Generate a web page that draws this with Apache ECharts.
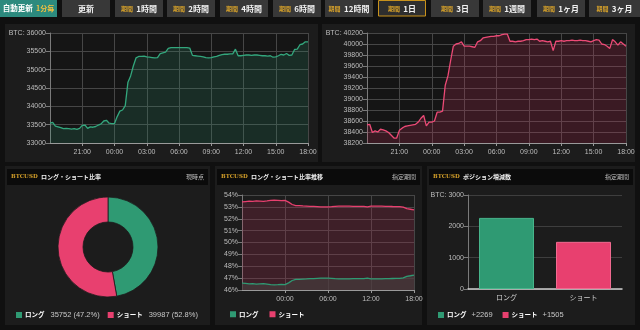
<!DOCTYPE html>
<html>
<head>
<meta charset="utf-8">
<title>BTCUSD ダッシュボード</title>
<script src="https://cdn.jsdelivr.net/npm/echarts/dist/echarts.min.js"></script>
<style>
  html, body { margin: 0; padding: 0; background: #101010; }
  #board { width: 640px; height: 330px; }
</style>
</head>
<body>
<div id="board"></div>
<script>
// ---- data ----
function clockLabels(startHour, stepMin, count) {
  const out = [];
  for (let i = 0; i < count; i++) {
    const m = (startHour * 60 + i * stepMin) % 1440;
    out.push(String(Math.floor(m / 60)).padStart(2, '0') + ':' + String(m % 60).padStart(2, '0'));
  }
  return out;
}
// 15-minute samples, 18:00 → 18:00
const priceTimes = clockLabels(18, 15, 97);
// 30-minute samples, 18:00 → 18:00
const ratioTimes = clockLabels(18, 30, 49);

// BTC price, venue A (green)
const priceA = [
  33540, 33560, 33460, 33440, 33420, 33390, 33400, 33390, 33380, 33390, 33370, 33400,
  33480, 33490, 33400, 33440, 33430, 33450, 33490, 33520, 33600, 33620, 33540, 33530,
  33530, 33720, 33870, 33900, 34020, 34660, 34830, 35100, 35320, 35360, 35360, 35370,
  35350, 35340, 35330, 35320, 35330, 35440, 35460, 35480, 35580, 35600, 35600, 35600,
  35600, 35600, 35600, 35600, 35590, 35390, 35380, 35370, 35360, 35350, 35330, 35320,
  35330, 35350, 35360, 35390, 35410, 35420, 35420, 35430, 35430, 35560, 35380, 35380,
  35390, 35400, 35400, 35390, 35400, 35400, 35390, 35380, 35380, 35370, 35380, 35340,
  35350, 35380, 35420, 35400, 35440, 35390, 35400, 35550, 35560, 35680, 35700, 35760,
  35760
];
// BTC price, venue B (pink)
const priceB = [
  38530, 38540, 38390, 38420, 38400, 38450, 38440, 38420, 38390, 38340, 38290, 38290,
  38430, 38470, 38500, 38510, 38520, 38530, 38540, 38580, 38650, 38700, 38510, 38580,
  38580, 38600, 38760, 38760, 38780, 39250, 39420, 39700, 39960, 40000, 40010, 40040,
  39960, 39960, 39960, 39950, 39940, 40040, 40060, 40110, 40120, 40130, 40140, 40140,
  40150, 40150, 40170, 40180, 40180, 40050, 40050, 40040, 40050, 40050, 40060, 40080,
  40080, 40090, 40080, 40090, 40050, 40060, 40050, 40040, 40050, 39880, 40050, 40050,
  40060, 40050, 40060, 40060, 40070, 40060, 40060, 40070, 40060, 40060, 40050, 40040,
  40060, 40080, 40070, 40000, 39990, 39960, 39920, 40080, 40040, 39980, 40040, 40000,
  39960
];

const sideNames = ['ロング', 'ショート'];
// current open positions
const positionCounts = [35752, 39987];
// position change over the period
const positionDelta = [2269, 1505];

// long / short share (%) over time
const shortShare = [
  53.42, 53.45, 53.48, 53.47, 53.50, 53.48, 53.46, 53.50, 53.55, 53.56, 53.55, 53.52,
  53.54, 53.40, 53.20, 53.10, 53.10, 53.08, 53.07, 53.05, 53.04, 53.02, 53.00, 53.00,
  53.00, 53.02, 53.05, 53.06, 53.07, 53.06, 53.06, 53.05, 53.05, 53.05, 53.04, 53.00,
  53.06, 53.07, 53.07, 53.06, 53.05, 53.05, 53.03, 53.02, 53.02, 52.98, 52.85, 52.80,
  52.74
];
const longShare = [
  46.58, 46.55, 46.52, 46.53, 46.50, 46.52, 46.54, 46.50, 46.45, 46.44, 46.45, 46.48,
  46.46, 46.60, 46.80, 46.90, 46.90, 46.92, 46.93, 46.95, 46.96, 46.98, 47.00, 47.00,
  47.00, 46.98, 46.95, 46.94, 46.93, 46.94, 46.94, 46.95, 46.95, 46.95, 46.96, 47.00,
  46.94, 46.93, 46.93, 46.94, 46.95, 46.95, 46.97, 46.98, 46.98, 47.02, 47.15, 47.20,
  47.26
];

// tick labels
const periodLabels = ['1時間', '2時間', '4時間', '6時間', '12時間', '1日', '3日', '1週間', '1ヶ月', '3ヶ月'];
const selectedPeriod = '1日';

// ---- styling ----
const GREEN = '#2f9a73';
const PINK = '#e8406f';
const GOLD = '#d6a12a';
const PANEL = '#1c1c1c';
const BAR = '#0b0b0b';
const GRIDLINE = '#464646';
const LATIN = 'Liberation Sans, Arial, sans-serif';
const JP = '"Noto Sans CJK JP", "Noto Sans", sans-serif';

const pct = positionCounts.map(v => (v / positionCounts.reduce((a, b) => a + b, 0) * 100).toFixed(1));

const axisText = { color: '#bcbcbc', fontSize: 7, fontFamily: LATIN };
const everyThreeHours = i => i % 12 === 0;
const labelThreeHours = i => i > 0 && i % 12 === 0;

function timeAxis(gridIndex, data, showAt, labelAt) {
  return {
    type: 'category', gridIndex, data, boundaryGap: false,
    axisLine: { lineStyle: { color: '#9a9a9a' } },
    axisTick: { show: true, interval: labelAt, length: 3, lineStyle: { color: '#9a9a9a' } },
    axisLabel: Object.assign({}, axisText, { interval: labelAt, margin: 6 }),
    splitLine: { show: true, interval: showAt, lineStyle: { color: GRIDLINE } }
  };
}
function valueAxis(gridIndex, min, max, interval, formatter) {
  return {
    type: 'value', gridIndex, min, max, interval,
    axisLine: { show: true, lineStyle: { color: '#7a7a7a' } },
    axisTick: { show: true, length: 4, lineStyle: { color: '#7a7a7a' } },
    axisLabel: Object.assign({}, axisText, { margin: 4, formatter }),
    splitLine: { lineStyle: { color: GRIDLINE } }
  };
}

// ---- page furniture: buttons, panels, headers ----
const graphics = [];
// panels
[[5, 24, 313, 138], [322, 24, 313, 138], [5, 166, 205, 159], [215, 166, 207, 159], [427, 166, 208, 159]]
  .forEach(([x, y, w, h]) => graphics.push({ type: 'rect', z: -10, shape: { x, y, width: w, height: h }, style: { fill: PANEL } }));

// toolbar
graphics.push({ type: 'rect', z: 5, shape: { x: 0, y: 0, width: 57, height: 17 }, style: { fill: '#2c8a7e' } });
graphics.push({ type: 'text', z: 6, style: {
  x: 28.5, y: 8.5, align: 'center', verticalAlign: 'middle',
  text: '{w|自動更新} {g|1分毎}',
  rich: { w: { fill: '#ffffff', fontSize: 7.5, fontWeight: 'bold', fontFamily: JP }, g: { fill: '#f2c040', fontSize: 7, fontWeight: 'bold', fontFamily: JP } }
} });
graphics.push({ type: 'rect', z: 5, shape: { x: 62, y: 0, width: 48, height: 17 }, style: { fill: '#383838' } });
graphics.push({ type: 'text', z: 6, style: { x: 86, y: 8.5, align: 'center', verticalAlign: 'middle', text: '更新', fill: '#f0f0f0', fontSize: 8, fontWeight: 'bold', fontFamily: JP } });
const btnX = [115, 167, 220, 273, 325, 378, 431, 483, 537, 589];
periodLabels.forEach((label, i) => {
  const w = i === periodLabels.length - 1 ? 51 : 48;
  const on = label === selectedPeriod;
  graphics.push({ type: 'rect', z: 5, shape: { x: btnX[i] + (on ? 0.5 : 0), y: on ? 0.5 : 0, width: w - (on ? 1 : 0), height: on ? 15.5 : 17 },
    style: { fill: on ? '#2e2e2e' : '#383838', stroke: on ? '#c8921c' : null, lineWidth: on ? 1 : 0 } });
  graphics.push({ type: 'text', z: 6, style: {
    x: btnX[i] + w / 2, y: 8.5, align: 'center', verticalAlign: 'middle',
    text: '{a|期間} {b|' + label + '}',
    rich: { a: { fill: GOLD, fontSize: 6, fontWeight: 'bold', fontFamily: JP }, b: { fill: '#f0f0f0', fontSize: 8, fontWeight: 'bold', fontFamily: JP } }
  } });
});

// bottom panel headers
[[7, 201, 'ロング・ショート比率', '現時点'], [217, 203, 'ロング・ショート比率推移', '指定期間'], [429, 204, 'ポジション増減数', '指定期間']]
  .forEach(([x, w, title, note]) => {
    graphics.push({ type: 'rect', z: -5, shape: { x, y: 169, width: w, height: 16 }, style: { fill: BAR } });
    graphics.push({ type: 'text', z: 6, style: {
      x: x + 4, y: 177, verticalAlign: 'middle',
      text: '{c|BTCUSD} {t|' + title + '}',
      rich: { c: { fill: GOLD, fontSize: 5.5, fontWeight: 'bold', fontFamily: 'DejaVu Serif, serif' }, t: { fill: '#f2f2f2', fontSize: 6, fontWeight: 'bold', fontFamily: JP } }
    } });
    graphics.push({ type: 'text', z: 6, style: { x: x + w - 4, y: 177, align: 'right', verticalAlign: 'middle', text: note, fill: '#bdbdbd', fontSize: 6, fontFamily: JP } });
  });

// ---- chart ----
const chart = echarts.init(document.getElementById('board'), null, { renderer: 'canvas' });
chart.setOption({
  backgroundColor: '#101010',
  animation: false,
  graphic: graphics,
  grid: [
    { left: 50, top: 33, width: 258, height: 110, show: true, backgroundColor: '#151515', borderWidth: 0 },
    { left: 367, top: 33, width: 259, height: 110, show: true, backgroundColor: '#151515', borderWidth: 0 },
    { left: 242, top: 195, width: 172, height: 95 },
    { left: 468, top: 195, width: 154, height: 94 }
  ],
  xAxis: [
    timeAxis(0, priceTimes, everyThreeHours, labelThreeHours),
    timeAxis(1, priceTimes, everyThreeHours, labelThreeHours),
    timeAxis(2, ratioTimes, i => i % 12 === 0, i => i > 0 && i % 12 === 0),
    {
      type: 'category', gridIndex: 3, data: sideNames,
      axisLine: { lineStyle: { color: '#cfcfcf', width: 1.5 } },
      axisTick: { show: false },
      axisLabel: { color: '#cfcfcf', fontSize: 7, fontFamily: JP, margin: 5 },
      splitLine: { show: false }
    }
  ],
  yAxis: [
    valueAxis(0, 33000, 36000, 500, v => v === 36000 ? 'BTC: ' + v : v),
    valueAxis(1, 38200, 40200, 200, v => v === 40200 ? 'BTC: ' + v : v),
    valueAxis(2, 46, 54, 1, v => v + '%'),
    Object.assign(valueAxis(3, 0, 3000, 1000, v => v === 3000 ? 'BTC: ' + v : v), {
      axisTick: { show: true, length: 4, lineStyle: { color: '#7a7a7a' } },
      splitLine: { lineStyle: { color: '#3e3e3e' } }
    })
  ],
  legend: [
    {
      left: 16, top: 311, padding: 0, itemWidth: 6, itemHeight: 6, itemGap: 8, icon: 'rect',
      data: sideNames, selectedMode: false,
      formatter: name => {
        const i = sideNames.indexOf(name);
        return '{b|' + name + '}{v|' + positionCounts[i] + ' (' + pct[i] + '%)}';
      },
      textStyle: { padding: [0, 0, 0, -2], rich: {
        b: { color: '#ffffff', fontSize: 6.5, fontWeight: 'bold', fontFamily: JP },
        v: { color: '#c8c8c8', fontSize: 7.5, fontFamily: LATIN, padding: [0, 0, 0, 6] }
      } }
    },
    {
      left: 230, top: 311, padding: 0, itemWidth: 6, itemHeight: 6, itemGap: 11, icon: 'rect',
      data: sideNames, selectedMode: false,
      textStyle: { padding: [0, 0, 0, -2], color: '#ffffff', fontSize: 6.5, fontWeight: 'bold', fontFamily: JP }
    },
    {
      left: 438, top: 311, padding: 0, itemWidth: 6, itemHeight: 6, itemGap: 10, icon: 'rect',
      data: sideNames, selectedMode: false,
      formatter: name => {
        const i = sideNames.indexOf(name);
        return '{b|' + name + '}{v|+' + positionDelta[i] + '}';
      },
      textStyle: { padding: [0, 0, 0, -2], rich: {
        b: { color: '#ffffff', fontSize: 6.5, fontWeight: 'bold', fontFamily: JP },
        v: { color: '#c8c8c8', fontSize: 7.5, fontFamily: LATIN, padding: [0, 0, 0, 5] }
      } }
    }
  ],
  series: [
    {
      type: 'line', xAxisIndex: 0, yAxisIndex: 0, data: priceA, showSymbol: false, silent: true,
      lineStyle: { color: '#33a77d', width: 1.3 }, itemStyle: { color: '#33a77d' },
      areaStyle: { color: 'rgba(46,154,114,0.26)' }
    },
    {
      type: 'line', xAxisIndex: 1, yAxisIndex: 1, data: priceB, showSymbol: false, silent: true,
      lineStyle: { color: '#ec4a76', width: 1.3 }, itemStyle: { color: '#ec4a76' },
      areaStyle: { color: 'rgba(200,45,90,0.30)' }
    },
    {
      name: 'ショート', type: 'line', xAxisIndex: 2, yAxisIndex: 2, data: shortShare, showSymbol: false, silent: true,
      lineStyle: { color: PINK, width: 1.3 }, itemStyle: { color: PINK },
      areaStyle: { color: 'rgba(170,40,80,0.35)' }
    },
    {
      name: 'ロング', type: 'line', xAxisIndex: 2, yAxisIndex: 2, data: longShare, showSymbol: false, silent: true,
      lineStyle: { color: GREEN, width: 1.3 }, itemStyle: { color: GREEN },
      areaStyle: { color: 'rgba(70,62,62,0.95)' }
    },
    {
      type: 'pie', center: [108, 247], radius: [25, 50], startAngle: 90, clockwise: true,
      label: { show: false }, labelLine: { show: false }, silent: true,
      itemStyle: { borderColor: '#1c1c1c', borderWidth: 0.8 },
      data: sideNames.map((n, i) => ({ name: n, value: positionCounts[i], itemStyle: { color: i === 0 ? GREEN : PINK } }))
    },
    {
      name: 'ロング', type: 'bar', xAxisIndex: 3, yAxisIndex: 3, barWidth: 55, barGap: '-100%', silent: true,
      itemStyle: { color: GREEN, borderColor: '#47b58b', borderWidth: 1 },
      data: [positionDelta[0], '-']
    },
    {
      name: 'ショート', type: 'bar', xAxisIndex: 3, yAxisIndex: 3, barWidth: 55, barGap: '-100%', silent: true,
      itemStyle: { color: PINK, borderColor: '#f06a90', borderWidth: 1 },
      data: ['-', positionDelta[1]]
    }
  ]
});
</script>
</body>
</html>
